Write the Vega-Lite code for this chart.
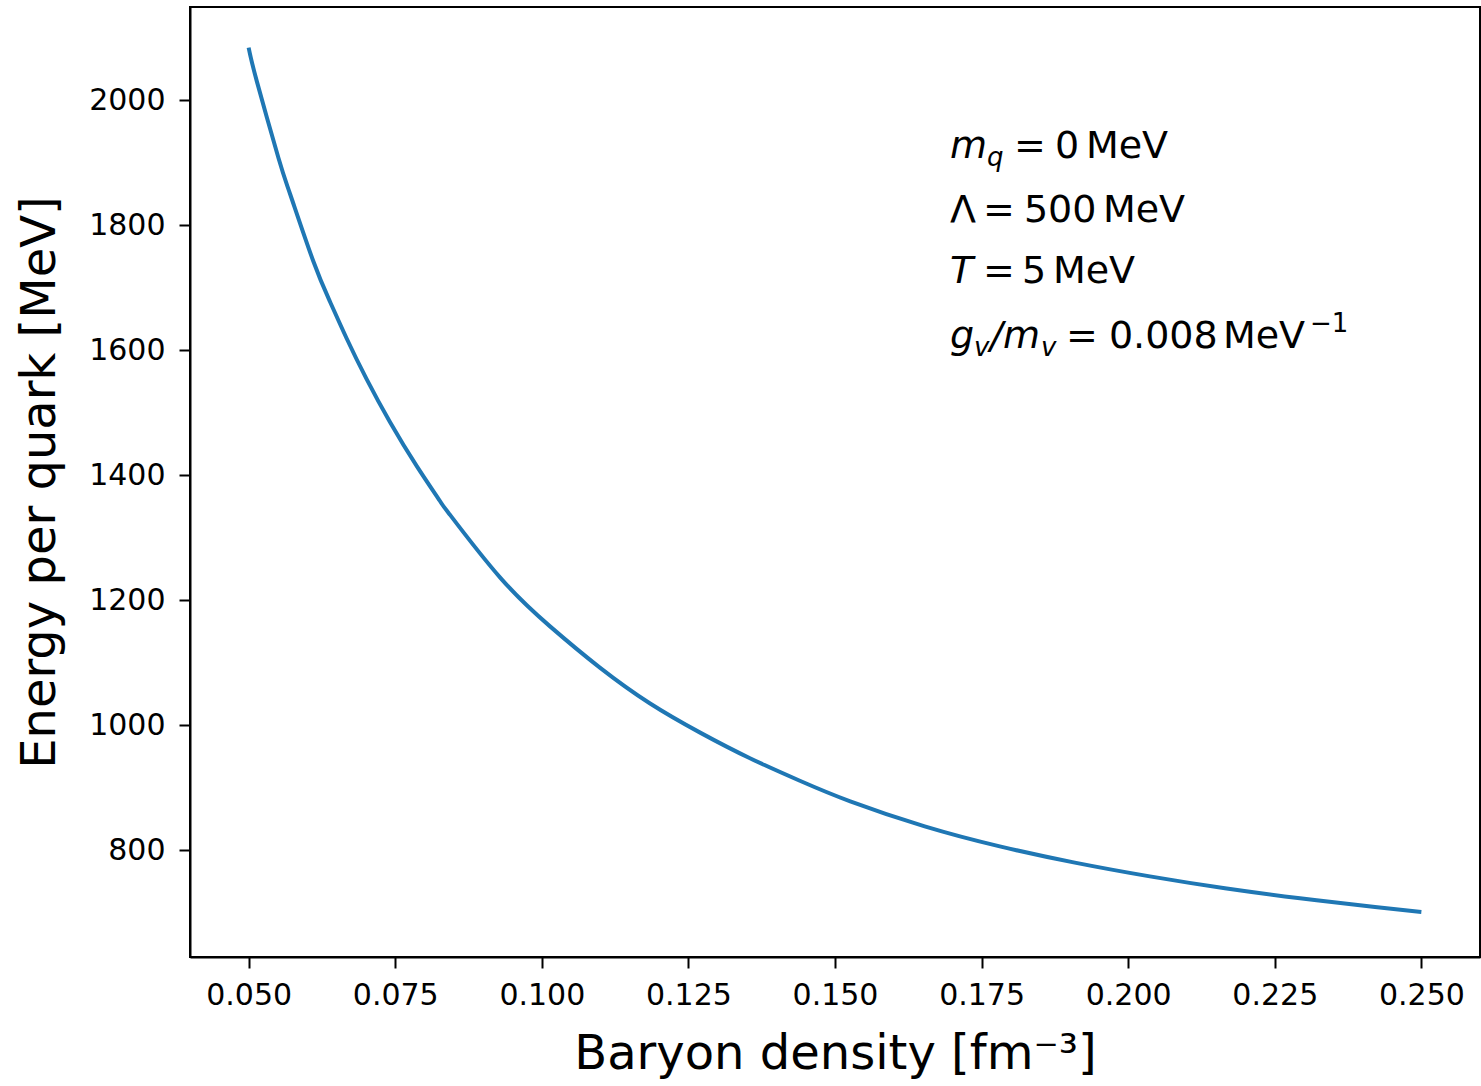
{
  "$schema": "https://vega.github.io/schema/vega-lite/v6.json",
  "width": 1290,
  "height": 950,
  "autosize": {"type": "none"},
  "padding": {"left": 190, "top": 7, "right": 1, "bottom": 129},
  "background": "white",
  "config": {
    "font": "DejaVu Sans",
    "view": {"stroke": "black", "strokeWidth": 2},
    "axis": {
      "grid": false,
      "domainColor": "black",
      "domainWidth": 2,
      "tickColor": "black",
      "tickWidth": 2,
      "tickSize": 11,
      "labelColor": "black",
      "labelFont": "DejaVu Sans",
      "labelFontSize": 30,
      "titleColor": "black",
      "titleFont": "DejaVu Sans",
      "titleFontSize": 48,
      "titleFontWeight": "normal"
    },
    "text": {"font": "DejaVu Sans", "color": "black", "align": "left", "baseline": "alphabetic", "fontSize": 38}
  },
  "datasets": {
    "curve": [
      {"n": 0.0500, "e": 2084},
      {"n": 0.0514, "e": 2030},
      {"n": 0.0551, "e": 1907},
      {"n": 0.0571, "e": 1849},
      {"n": 0.0610, "e": 1743},
      {"n": 0.0639, "e": 1677},
      {"n": 0.0667, "e": 1619},
      {"n": 0.0701, "e": 1554},
      {"n": 0.0741, "e": 1485},
      {"n": 0.0787, "e": 1414},
      {"n": 0.0826, "e": 1359},
      {"n": 0.0843, "e": 1337},
      {"n": 0.0929, "e": 1236},
      {"n": 0.1014, "e": 1158},
      {"n": 0.1099, "e": 1092},
      {"n": 0.1184, "e": 1035},
      {"n": 0.1270, "e": 988},
      {"n": 0.1355, "e": 947},
      {"n": 0.1440, "e": 911},
      {"n": 0.1526, "e": 878},
      {"n": 0.1653, "e": 838},
      {"n": 0.1781, "e": 806},
      {"n": 0.1909, "e": 780},
      {"n": 0.2037, "e": 758},
      {"n": 0.2165, "e": 739},
      {"n": 0.2293, "e": 723},
      {"n": 0.2421, "e": 709},
      {"n": 0.2500, "e": 701}
    ]
  },
  "layer": [
    {
      "data": {"name": "curve"},
      "mark": {"type": "line", "color": "#1f77b4", "strokeWidth": 4, "interpolate": "natural"},
      "encoding": {
        "x": {
          "field": "n", "type": "quantitative",
          "scale": {"domain": [0.04, 0.26], "nice": false, "zero": false},
          "axis": {
            "values": [0.05, 0.075, 0.1, 0.125, 0.15, 0.175, 0.2, 0.225, 0.25],
            "format": ".3f",
            "labelPadding": 12,
            "title": "Baryon density [fm⁻³]",
            "titlePadding": 20
          }
        },
        "y": {
          "field": "e", "type": "quantitative",
          "scale": {"domain": [629, 2149], "nice": false, "zero": false},
          "axis": {
            "values": [800, 1000, 1200, 1400, 1600, 1800, 2000],
            "format": "d",
            "labelPadding": 14,
            "title": "Energy per quark [MeV]",
            "titlePadding": 24
          }
        }
      }
    },
    {"data": {"values": [{}]}, "mark": {"type": "text", "text": "m", "fontStyle": "italic"}, "encoding": {"x": {"datum": 0.1696}, "y": {"datum": 1907}}},
    {"data": {"values": [{}]}, "mark": {"type": "text", "text": "q", "fontStyle": "italic", "fontSize": 26, "dx": 37, "dy": 8}, "encoding": {"x": {"datum": 0.1696}, "y": {"datum": 1907}}},
    {"data": {"values": [{}]}, "mark": {"type": "text", "text": "=", "dx": 64}, "encoding": {"x": {"datum": 0.1696}, "y": {"datum": 1907}}},
    {"data": {"values": [{}]}, "mark": {"type": "text", "text": "0", "dx": 105}, "encoding": {"x": {"datum": 0.1696}, "y": {"datum": 1907}}},
    {"data": {"values": [{}]}, "mark": {"type": "text", "text": "MeV", "dx": 136}, "encoding": {"x": {"datum": 0.1696}, "y": {"datum": 1907}}},

    {"data": {"values": [{}]}, "mark": {"type": "text", "text": "Λ"}, "encoding": {"x": {"datum": 0.1696}, "y": {"datum": 1805}}},
    {"data": {"values": [{}]}, "mark": {"type": "text", "text": "=", "dx": 33}, "encoding": {"x": {"datum": 0.1696}, "y": {"datum": 1805}}},
    {"data": {"values": [{}]}, "mark": {"type": "text", "text": "500", "dx": 74}, "encoding": {"x": {"datum": 0.1696}, "y": {"datum": 1805}}},
    {"data": {"values": [{}]}, "mark": {"type": "text", "text": "MeV", "dx": 153}, "encoding": {"x": {"datum": 0.1696}, "y": {"datum": 1805}}},

    {"data": {"values": [{}]}, "mark": {"type": "text", "text": "T", "fontStyle": "italic"}, "encoding": {"x": {"datum": 0.1696}, "y": {"datum": 1707}}},
    {"data": {"values": [{}]}, "mark": {"type": "text", "text": "=", "dx": 33}, "encoding": {"x": {"datum": 0.1696}, "y": {"datum": 1707}}},
    {"data": {"values": [{}]}, "mark": {"type": "text", "text": "5", "dx": 72}, "encoding": {"x": {"datum": 0.1696}, "y": {"datum": 1707}}},
    {"data": {"values": [{}]}, "mark": {"type": "text", "text": "MeV", "dx": 103}, "encoding": {"x": {"datum": 0.1696}, "y": {"datum": 1707}}},

    {"data": {"values": [{}]}, "mark": {"type": "text", "text": "g", "fontStyle": "italic"}, "encoding": {"x": {"datum": 0.1696}, "y": {"datum": 1603}}},
    {"data": {"values": [{}]}, "mark": {"type": "text", "text": "v", "fontStyle": "italic", "fontSize": 26, "dx": 24, "dy": 8}, "encoding": {"x": {"datum": 0.1696}, "y": {"datum": 1603}}},
    {"data": {"values": [{}]}, "mark": {"type": "text", "text": "/", "fontStyle": "italic", "dx": 40}, "encoding": {"x": {"datum": 0.1696}, "y": {"datum": 1603}}},
    {"data": {"values": [{}]}, "mark": {"type": "text", "text": "m", "fontStyle": "italic", "dx": 53}, "encoding": {"x": {"datum": 0.1696}, "y": {"datum": 1603}}},
    {"data": {"values": [{}]}, "mark": {"type": "text", "text": "v", "fontStyle": "italic", "fontSize": 26, "dx": 91, "dy": 8}, "encoding": {"x": {"datum": 0.1696}, "y": {"datum": 1603}}},
    {"data": {"values": [{}]}, "mark": {"type": "text", "text": "=", "dx": 116}, "encoding": {"x": {"datum": 0.1696}, "y": {"datum": 1603}}},
    {"data": {"values": [{}]}, "mark": {"type": "text", "text": "0.008", "dx": 159}, "encoding": {"x": {"datum": 0.1696}, "y": {"datum": 1603}}},
    {"data": {"values": [{}]}, "mark": {"type": "text", "text": "MeV", "dx": 273}, "encoding": {"x": {"datum": 0.1696}, "y": {"datum": 1603}}},
    {"data": {"values": [{}]}, "mark": {"type": "text", "text": "−1", "fontSize": 26, "dx": 360, "dy": -16}, "encoding": {"x": {"datum": 0.1696}, "y": {"datum": 1603}}}
  ]
}
